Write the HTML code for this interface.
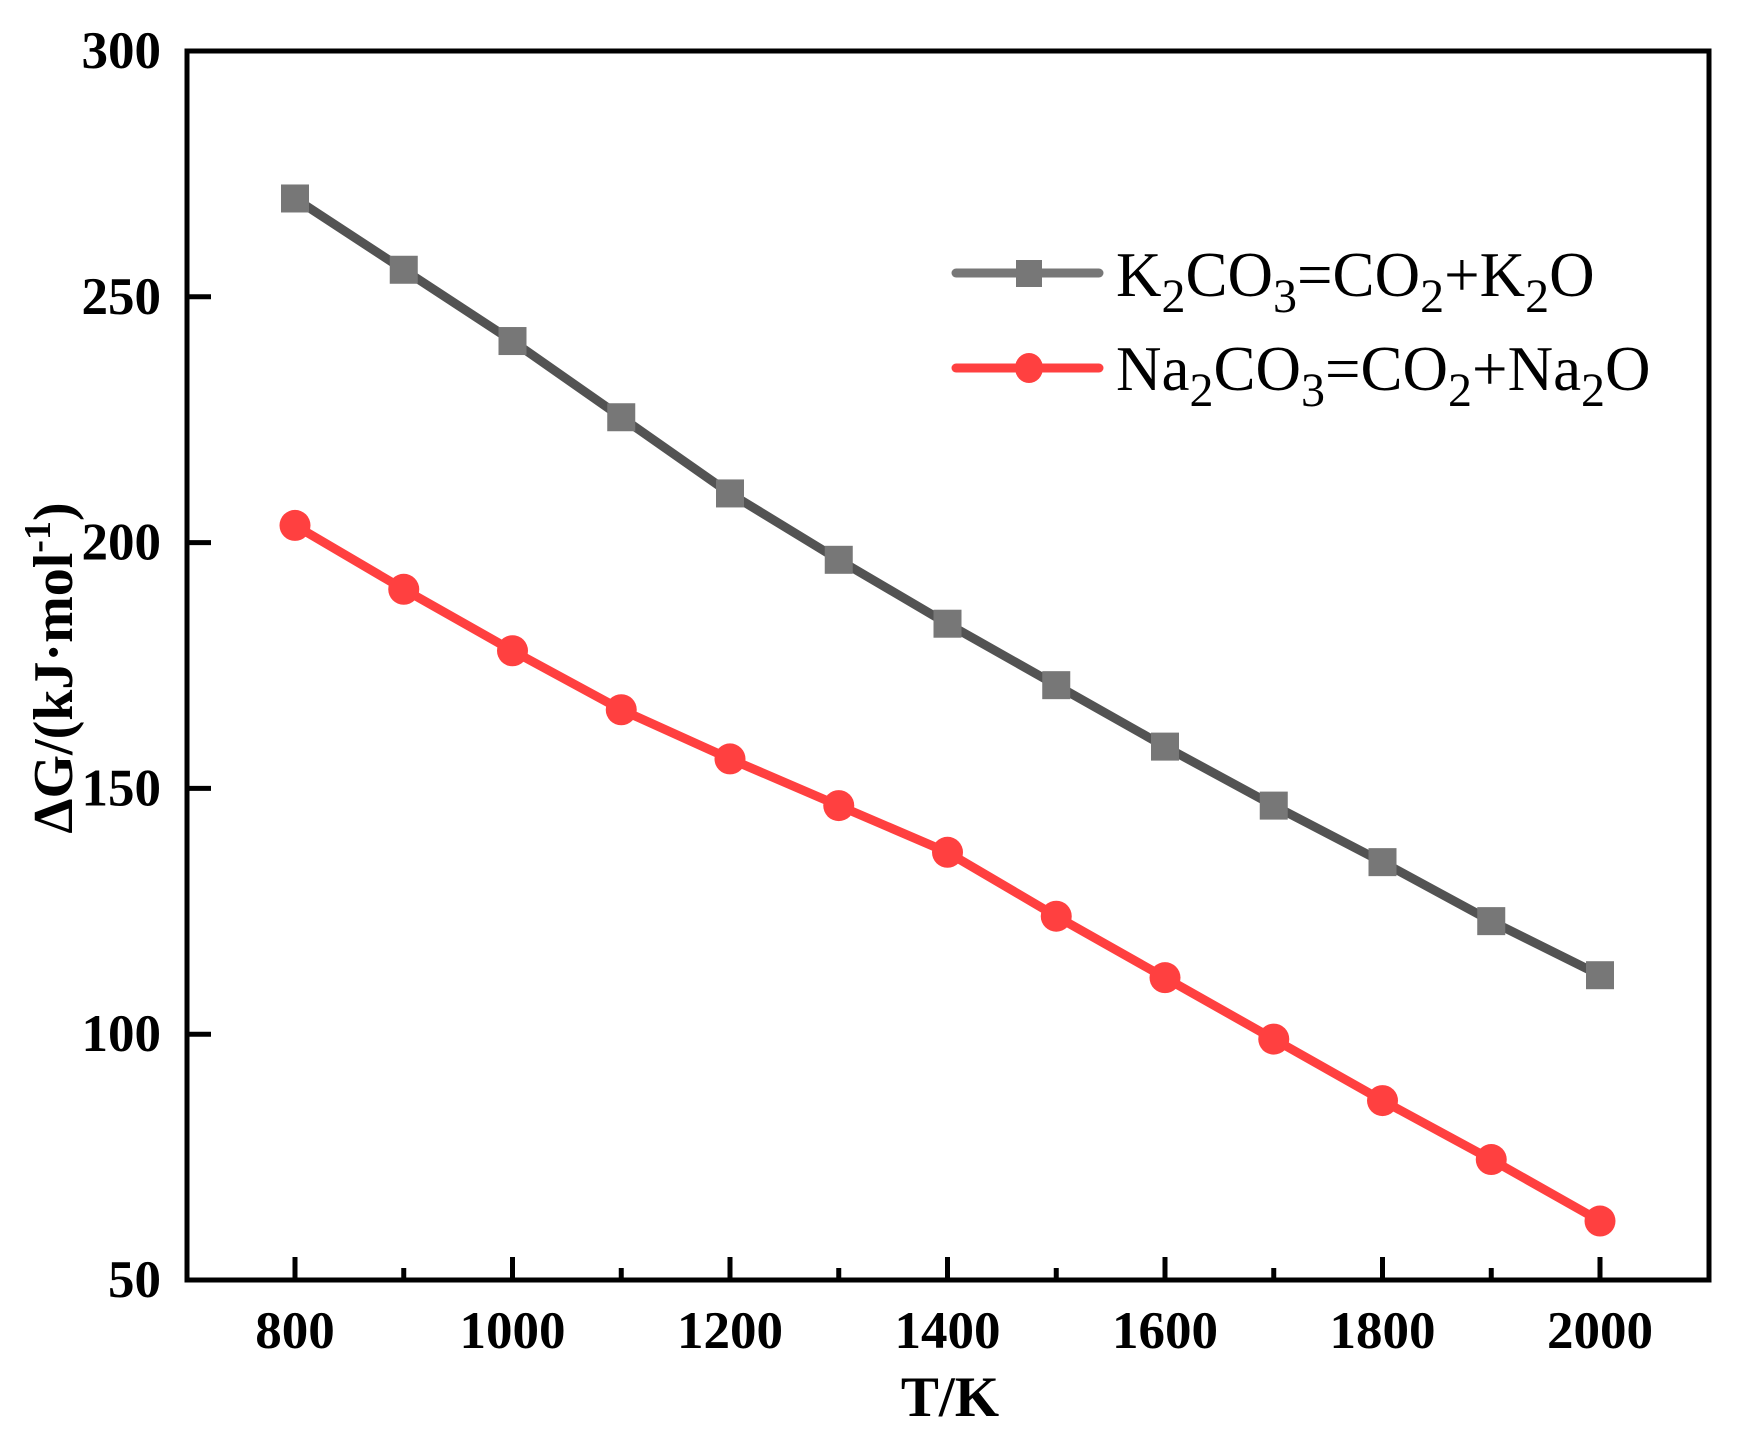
<!DOCTYPE html>
<html><head><meta charset="utf-8"><style>html,body{margin:0;padding:0;background:#fff}</style></head>
<body>
<svg width="1745" height="1447" viewBox="0 0 1745 1447" xmlns="http://www.w3.org/2000/svg" font-family="Liberation Serif, serif">
<rect width="1745" height="1447" fill="#fff"/>
<g id="plot"></g>
<script>
(function(){
var g=document.getElementById('plot'),NS='http://www.w3.org/2000/svg';
function el(t,a,txt){var e=document.createElementNS(NS,t);for(var k in a)e.setAttribute(k,a[k]);if(txt!=null)e.textContent=txt;g.appendChild(e);return e;}
function X(t){return 295+(t-800)*1.0875;}
function Y(v){return 1280-(v-50)*4.916;}
var K=[270,255.5,241,225.5,210,196.5,183.5,171,158.5,146.5,135,123,112];
var N=[203.5,190.5,178,166,156,146.5,137,124,111.5,99,86.5,74.5,62];
for(var t=800;t<=2000;t+=100){var maj=(t%200==0);el('line',{x1:X(t),x2:X(t),y1:1280,y2:maj?1257:1268,stroke:'#000','stroke-width':5});
 if(maj)el('text',{x:X(t),y:1348,'font-size':53,'font-weight':'bold','text-anchor':'middle'},t);}
for(var v=50;v<=300;v+=50){el('line',{x1:187,x2:211,y1:Y(v),y2:Y(v),stroke:'#000','stroke-width':5});
 el('text',{x:161,y:Y(v)+17,'font-size':53,'font-weight':'bold','text-anchor':'end'},v);}
el('rect',{x:187,y:51,width:1522,height:1229,fill:'none',stroke:'#000','stroke-width':5});
var pk=K.map(function(v,i){return X(800+i*100)+','+Y(v)}).join(' ');
var pn=N.map(function(v,i){return X(800+i*100)+','+Y(v)}).join(' ');
el('polyline',{points:pk,fill:'none',stroke:'#535353','stroke-width':9});
el('polyline',{points:pn,fill:'none',stroke:'#ff4040','stroke-width':9});
K.forEach(function(v,i){el('rect',{x:X(800+i*100)-14,y:Y(v)-14,width:28,height:28,fill:'#777'});});
N.forEach(function(v,i){el('circle',{cx:X(800+i*100),cy:Y(v),r:15.5,fill:'#ff4040'});});
el('line',{x1:956,x2:1099,y1:273,y2:273,stroke:'#777','stroke-width':9,'stroke-linecap':'round'});
el('rect',{x:1016,y:260,width:26,height:27,fill:'#777'});
el('line',{x1:956,x2:1099,y1:368,y2:368,stroke:'#ff4040','stroke-width':9,'stroke-linecap':'round'});
el('ellipse',{cx:1029,cy:368,rx:14,ry:15,fill:'#ff4040'});
})();
</script>
<text x="1116" y="296" font-size="63">K<tspan font-size="48" dy="16">2</tspan><tspan dy="-16">CO</tspan><tspan font-size="48" dy="16">3</tspan><tspan dy="-16">=CO</tspan><tspan font-size="48" dy="16">2</tspan><tspan dy="-16">+K</tspan><tspan font-size="48" dy="16">2</tspan><tspan dy="-16">O</tspan></text>
<text x="1116" y="390" font-size="63">Na<tspan font-size="48" dy="16">2</tspan><tspan dy="-16">CO</tspan><tspan font-size="48" dy="16">3</tspan><tspan dy="-16">=CO</tspan><tspan font-size="48" dy="16">2</tspan><tspan dy="-16">+Na</tspan><tspan font-size="48" dy="16">2</tspan><tspan dy="-16">O</tspan></text>
<text x="950" y="1416" font-size="57" font-weight="bold" text-anchor="middle">T/K</text>
<text transform="translate(72,668) rotate(-90)" font-size="56" font-weight="bold" text-anchor="middle">ΔG/(kJ·mol<tspan font-size="38" dy="-22">-1</tspan><tspan dy="22">)</tspan></text>
</svg>
</body></html>
